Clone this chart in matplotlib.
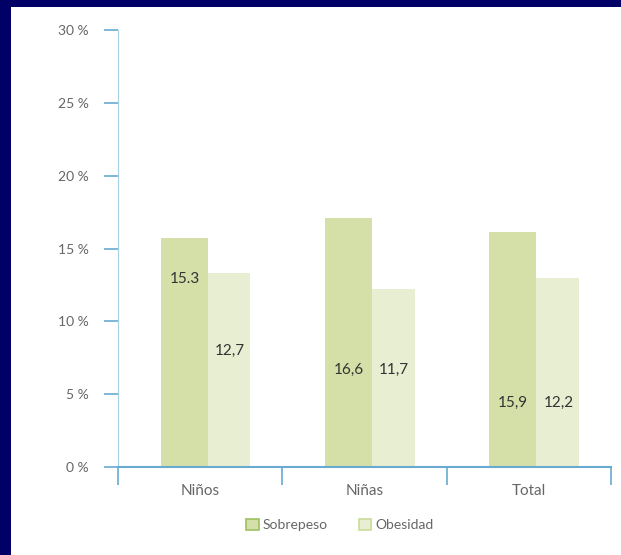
import numpy as np
import matplotlib
matplotlib.use("Agg")
import matplotlib.pyplot as plt
from matplotlib.patches import Rectangle

# data
categorias = ["Niños", "Niñas", "Total"]
sobrepeso = [15.7, 17.1, 16.1]
obesidad = [13.3, 12.2, 13.0]
etiq_sobrepeso = ["15.3", "16,6", "15,9"]
etiq_obesidad = ["12,7", "11,7", "12,2"]
y_etiq_sobrepeso = [12.9, 6.7, 4.4]
y_etiq_obesidad = [8.0, 6.7, 4.4]
yticks = [0, 5, 10, 15, 20, 25, 30]
ytick_labels = ["0 %", "5 %", "10 %", "15 %", "20 %", "25 %", "30 %"]

verde = "#d4e0a8"
verde_claro = "#e8eed2"
azul = "#6aaad0"
gris = "#666666"

plt.rcParams["font.family"] = ["Lato", "DejaVu Sans"]

fig = plt.figure(figsize=(6.21, 5.55), dpi=100, facecolor="#000066")
# white panel inside the navy frame
fig.patches.append(Rectangle((11 / 621, 0), 1, 1 - 7 / 555, transform=fig.transFigure,
                             facecolor="white", edgecolor="none", zorder=-10))

ax = fig.add_axes([118 / 621, 1 - 467 / 555, 493 / 621, 437 / 555])
ax.set_zorder(5)
ax.set_facecolor("none")

x = np.arange(len(categorias))
ax.bar(x - 0.24, sobrepeso, width=0.285, align="edge", color=verde, label="Sobrepeso")
ax.bar(x + 0.045, obesidad, width=0.26, align="edge", color=verde_claro, label="Obesidad")

for i in range(len(categorias)):
    ax.text(x[i] - 0.095, y_etiq_sobrepeso[i], etiq_sobrepeso[i], ha="center", va="center",
            fontsize=11, color="#333333")
    ax.text(x[i] + 0.18, y_etiq_obesidad[i], etiq_obesidad[i], ha="center", va="center",
            fontsize=11, color="#333333")

ax.set_xlim(-0.5, 2.5)
ax.set_ylim(0, 30)
ax.set_yticks(yticks)
ax.set_yticklabels(ytick_labels)
ax.set_xticks(x)
ax.set_xticklabels(categorias)
ax.set_xticks([-0.5, 0.5, 1.5, 2.5], minor=True)
ax.tick_params(axis="x", which="major", length=0, pad=12, labelsize=11, labelcolor=gris)
ax.tick_params(axis="x", which="minor", length=13, width=1.2, color=azul, direction="out")
ax.tick_params(axis="y", length=10, width=1.2, color=azul, pad=11, labelsize=10, labelcolor=gris)

for s in ["top", "right"]:
    ax.spines[s].set_visible(False)
ax.spines["left"].set_color("#a9cfe3")
ax.spines["bottom"].set_color(azul)
ax.spines["bottom"].set_linewidth(1.5)

leg = ax.legend(loc="upper center", bbox_to_anchor=(0.45, -0.09), ncol=2, frameon=False,
                fontsize=10, labelcolor=gris, handlelength=0.9, handleheight=0.9,
                handletextpad=0.3, columnspacing=2.2)
for h, c in zip(leg.legend_handles, ["#9fc060", "#c8dc98"]):
    h.set_edgecolor(c)
    h.set_linewidth(1.2)

fig.savefig("out.png", dpi=100, facecolor=fig.get_facecolor())
